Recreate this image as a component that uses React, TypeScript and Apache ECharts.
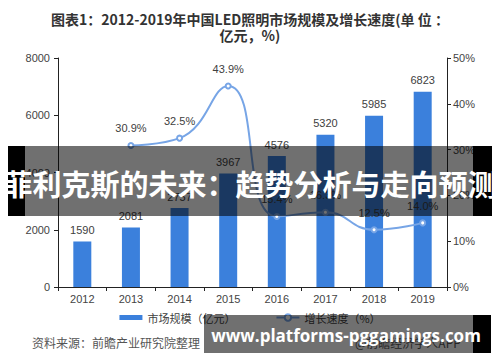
import React, { useEffect, useRef } from "react";
import * as echarts from "echarts";

const years = ["2012", "2013", "2014", "2015", "2016", "2017", "2018", "2019"];
const marketSize = [1590, 2081, 2757, 3967, 4576, 5320, 5985, 6823];
const growthRate: (number | string)[] = ["-", 30.9, 32.5, 43.9, 15.4, 16.3, 12.5, 14.0];
const leftTicks = { min: 0, max: 8000, interval: 2000 };
const rightTicks = { min: 0, max: 50, interval: 10 };

const FONT = "'Liberation Sans', 'Noto Sans CJK SC', sans-serif";
const CJK = "'Noto Sans CJK SC', 'Liberation Sans', sans-serif";

export default function App() {
  const ref = useRef<HTMLDivElement>(null);
  useEffect(() => {
    if (!ref.current) return;
    const chart = echarts.init(ref.current, null, { renderer: "svg" });
    chart.setOption({
      animation: false,
      backgroundColor: "#ffffff",
      title: {
        text: "图表1：2012-2019年中国LED照明市场规模及增长速度(单 位 ：\n亿元，%)",
        left: "center",
        top: 6,
        textStyle: {
          fontFamily: CJK,
          fontSize: 14,
          fontWeight: "bold",
          color: "#333333",
          lineHeight: 16,
        },
      },
      grid: { left: 58, right: 53, top: 58, bottom: 75, containLabel: false },
      legend: {
        bottom: 34,
        left: "center",
        itemWidth: 23,
        itemHeight: 8,
        itemGap: 40,
        textStyle: { fontFamily: CJK, fontSize: 11, color: "#404040" },
        data: [
          { name: "市场规模（亿元）", icon: "path://M0,0H23V5H0Z" },
          { name: "增长速度（%）" },
        ],
      },
      xAxis: {
        type: "category",
        data: years,
        axisLine: { lineStyle: { color: "#222222", width: 1 } },
        axisTick: { show: true, length: 4, lineStyle: { color: "#222222" } },
        axisLabel: { fontFamily: FONT, fontSize: 11, color: "#444444", margin: 6 },
      },
      yAxis: [
        {
          type: "value",
          ...leftTicks,
          splitLine: { show: false },
          axisLine: { show: true, lineStyle: { color: "#222222" } },
          axisTick: { show: true, length: 4, lineStyle: { color: "#222222" } },
          axisLabel: {
            fontFamily: FONT,
            fontSize: 11,
            color: "#444444",
            margin: 8,
            formatter: (v: number) => String(v),
          },
        },
        {
          type: "value",
          ...rightTicks,
          position: "right",
          splitLine: { show: false },
          axisLine: { show: true, lineStyle: { color: "#222222" } },
          axisTick: { show: true, length: 4, lineStyle: { color: "#222222" } },
          axisLabel: {
            fontFamily: FONT,
            fontSize: 11,
            color: "#444444",
            margin: 6,
            formatter: "{value}%",
          },
        },
      ],
      series: [
        {
          name: "市场规模（亿元）",
          type: "bar",
          data: marketSize,
          barWidth: 18,
          itemStyle: { color: "#3b80dc" },
          label: {
            show: true,
            position: "top",
            distance: 6,
            fontFamily: FONT,
            fontSize: 11,
            color: "#404040",
          },
          z: 2,
        },
        {
          name: "增长速度（%）",
          type: "line",
          yAxisIndex: 1,
          data: growthRate,
          smooth: 0.5,
          symbol: "emptyCircle",
          symbolSize: 5,
          lineStyle: { color: "#77a5e6", width: 2 },
          itemStyle: { color: "#77a5e6", borderColor: "#77a5e6" },
          label: {
            show: true,
            position: "top",
            distance: 8,
            fontFamily: FONT,
            fontSize: 11,
            color: "#404040",
            formatter: (p: any) => Number(p.value).toFixed(1) + "%",
          },
          z: 3,
        },
      ],
      graphic: [
        {
          type: "text",
          left: 32,
          top: 336,
          z: 10,
          style: {
            text: "资料来源：前瞻产业研究院整理",
            fontFamily: CJK,
            fontSize: 12,
            fill: "#555555",
          },
        },
        {
          type: "text",
          left: 355,
          top: 336,
          z: 10,
          style: {
            text: "@前瞻经济学人APP",
            fontFamily: CJK,
            fontSize: 12,
            fill: "#555555",
          },
        },
        {
          type: "rect",
          shape: { x: 25, y: 146, width: 448, height: 70 },
          z: 100,
          style: { fill: "rgba(0,0,0,0.56)" },
        },
        {
          type: "rect",
          shape: { x: 0, y: 146, width: 25, height: 70 },
          z: 100,
          style: { fill: "#000000" },
        },
        {
          type: "rect",
          shape: { x: 473, y: 146, width: 27, height: 70 },
          z: 100,
          style: { fill: "#000000" },
        },
        {
          type: "text",
          x: 250,
          y: 183,
          z: 101,
          style: {
            text: "菲利克斯的未来：趋势分析与走向预测",
            fontFamily: CJK,
            fontSize: 29,
            fontWeight: "bold",
            fill: "#ffffff",
            align: "center",
            verticalAlign: "middle",
          },
        },
        {
          type: "rect",
          shape: { x: 204, y: 315, width: 269, height: 38 },
          z: 100,
          style: { fill: "rgba(0,0,0,0.56)" },
        },
        {
          type: "rect",
          shape: { x: 473, y: 315, width: 18, height: 38 },
          z: 100,
          style: { fill: "#000000" },
        },
        {
          type: "text",
          x: 346,
          y: 335,
          z: 101,
          style: {
            text: "www.platforms-pggamings.com",
            fontFamily: "'Open Sans', 'DejaVu Sans', sans-serif",
            fontSize: 17,
            fontWeight: "bold",
            fill: "#ffffff",
            align: "center",
            verticalAlign: "middle",
          },
        },
      ],
    });
    return () => chart.dispose();
  }, []);
  return <div ref={ref} style={{ width: 500, height: 362, margin: -8 }} />;
}
